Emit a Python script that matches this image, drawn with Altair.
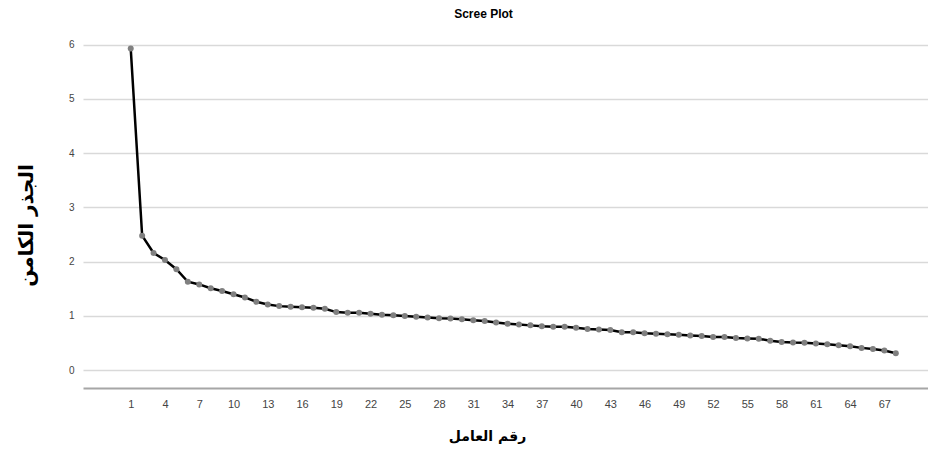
import altair as alt
import pandas as pd

factor = list(range(1, 69))
eigen = [5.93, 2.48, 2.16, 2.03, 1.86, 1.63, 1.58, 1.51, 1.46, 1.40,
         1.34, 1.26, 1.21, 1.18, 1.17, 1.16, 1.15, 1.13, 1.07, 1.06,
         1.06, 1.04, 1.02, 1.01, 1.00, 0.985, 0.97, 0.955, 0.95, 0.94,
         0.92, 0.905, 0.88, 0.855, 0.84, 0.825, 0.81, 0.80, 0.80, 0.78,
         0.76, 0.75, 0.74, 0.70, 0.70, 0.68, 0.67, 0.66, 0.65, 0.64,
         0.63, 0.61, 0.61, 0.59, 0.585, 0.58, 0.54, 0.52, 0.51, 0.505,
         0.49, 0.475, 0.46, 0.44, 0.41, 0.39, 0.36, 0.31]
x_ticks = list(range(1, 68, 3))
y_ticks = [0, 1, 2, 3, 4, 5, 6]

df = pd.DataFrame({"factor": factor, "eigen": eigen})

x_enc = alt.X("factor:Q",
              scale=alt.Scale(domain=[-3.18, 70.82], nice=False, zero=False),
              axis=alt.Axis(values=x_ticks, title="رقم العامل", grid=False,
                            ticks=False, domain=True, domainColor="#a6a6a6",
                            domainWidth=2, labelFontSize=11, labelColor="#444444",
                            labelFont="Liberation Sans", labelPadding=10,
                            titleFont="DejaVu Sans", titleFontSize=14,
                            titleFontWeight="bold", titleColor="#000000",
                            titleX=404, titleY=48, titleBaseline="middle",
                            titleAnchor="start", titleAlign="center"))
y_enc = alt.Y("eigen:Q",
              scale=alt.Scale(domain=[-0.33, 6.42], nice=False, zero=False),
              axis=alt.Axis(values=y_ticks, title="الجذر الكامن", grid=True,
                            gridColor="#d9d9d9", gridWidth=1.5,
                            ticks=False, domain=False, labelFontSize=10,
                            labelColor="#444444", labelFont="Liberation Sans",
                            labelPadding=9,
                            titleFont="DejaVu Sans", titleFontSize=20,
                            titleFontWeight="bold", titleColor="#000000",
                            titleX=-57, titleY=203, titleBaseline="middle",
                            titleAlign="center", titleAngle=-90))

line = alt.Chart(df).mark_line(color="#000000", strokeWidth=2.5).encode(x=x_enc, y=y_enc)
pts = alt.Chart(df).mark_point(filled=True, color="#808080", opacity=1, size=36).encode(x=x_enc, y=y_enc)

chart = alt.layer(line, pts).properties(
    width=845, height=366,
    autosize=alt.AutoSizeParams(type="none"),
    padding={"left": 75, "top": 14, "right": 0, "bottom": 60},
    title=alt.TitleParams("Scree Plot", font="Liberation Sans", fontSize=12,
                          fontWeight="bold", color="#000000", offset=1, dx=-22),
).configure_view(stroke=None)

chart.save("out.html", embed_options={"renderer": "svg", "actions": False})
